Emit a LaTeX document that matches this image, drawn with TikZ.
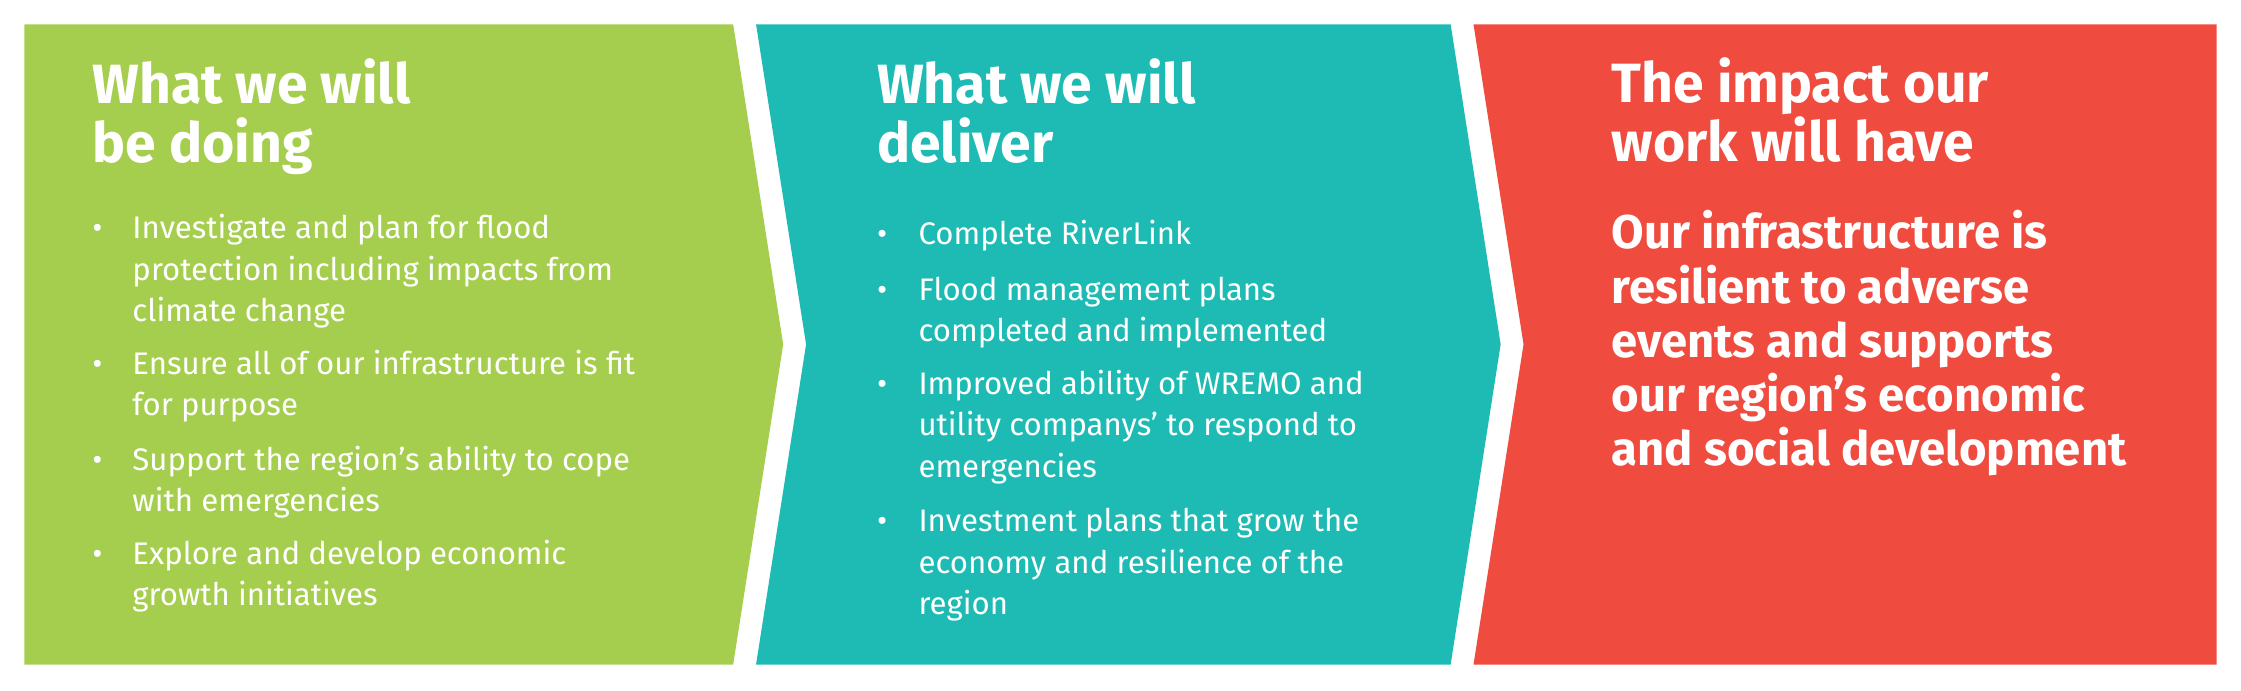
\documentclass[tikz,border=0pt]{standalone}
\usepackage{fontspec}
\setmainfont{Fira Sans}
\definecolor{cgreen}{HTML}{A6CE4E}
\definecolor{cteal}{HTML}{1DBBB4}
\definecolor{cred}{HTML}{EF4B3F}
\tikzset{
 head/.style={anchor=base west,inner sep=0pt,text=white,align=left,font=\fontsize{11pt}{11.8pt}\selectfont\bfseries},
 body/.style={anchor=base west,inner sep=0pt,text=white,align=left,font=\fontsize{6.2pt}{8.25pt}\selectfont},
 rbody/.style={anchor=base west,inner sep=0pt,text=white,align=left,font=\fontsize{9.4pt}{10.8pt}\selectfont\bfseries},
 bul/.style={anchor=base west,inner sep=0pt,text=white,font=\fontsize{6.2pt}{8.25pt}\selectfont},
}
\begin{document}
\begin{tikzpicture}[x=0.01cm,y=-0.01cm]
\useasboundingbox (0,0) rectangle (1568,483);
\fill[cgreen] (17,17) -- (513,17) -- (548,241) -- (513,465) -- (17,465) -- cycle;
\fill[cteal] (529,17) -- (1015,17) -- (1050,241) -- (1015,465) -- (529,465) -- (564,241) -- cycle;
\fill[cred] (1031,17) -- (1551,17) -- (1551,465) -- (1031,465) -- (1066,241) -- cycle;
\node[head] (h1) at (64,114) {What we will\\be doing};
\node[head] (h2) at (613,114) {What we will\\deliver};
\node[head] (h3) at (1127,113) {The impact our\\work will have};
\foreach \y/\n in {167/a,262/b,329/c,395/d} \node[bul] (g\n) at (64,\y) {\textbullet};
\node[body] (g1) at (92,225) {Investigate and plan for flood\\protection including impacts from\\climate change};
\node[body] (g2) at (92,291) {Ensure all of our infrastructure is fit\\for purpose};
\node[body] (g3) at (92,358) {Support the region’s ability to cope\\with emergencies};
\node[body] (g4) at (92,424) {Explore and develop economic\\growth initiatives};
\foreach \y/\n in {171/a,210/b,276/c,372/d} \node[bul] (t\n) at (613,\y) {\textbullet};
\node[body] (t1) at (642,171) {Complete RiverLink};
\node[body] (t2) at (642,239) {Flood management plans\\completed and implemented};
\node[body] (t3) at (642,334) {Improved ability of WREMO and\\utility companys’ to respond to\\emergencies};
\node[body] (t4) at (642,430) {Investment plans that grow the\\economy and resilience of the\\region};
\node[rbody] (r1) at (1127,326) {Our infrastructure is\\resilient to adverse\\events and supports\\our region’s economic\\and social development};
\end{tikzpicture}
\end{document}
